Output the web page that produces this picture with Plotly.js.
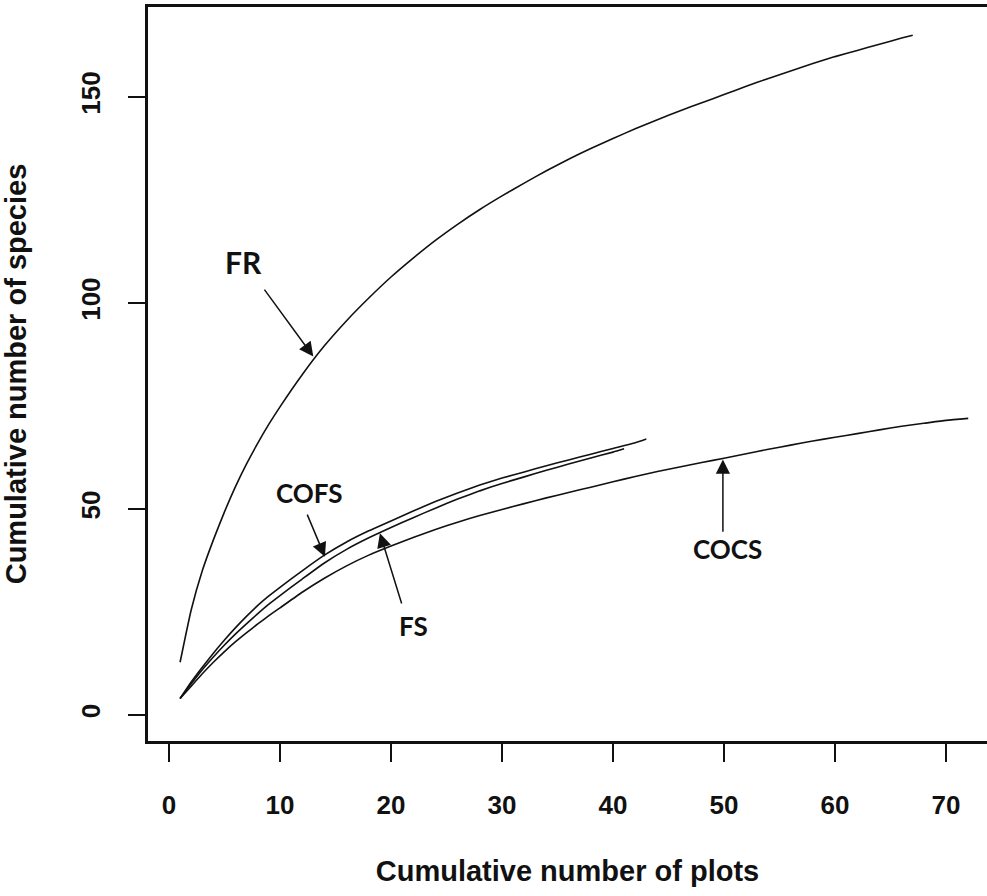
<!DOCTYPE html>
<html>
<head>
<meta charset="utf-8">
<script src="https://cdn.plot.ly/plotly-3.0.1.min.js"></script>
<style>html,body{margin:0;padding:0;background:#fff;}#chart{width:987px;height:896px;}</style>
</head>
<body>
<div id="chart"></div>
<script>
// ---- data ----
const frX = [1,2,3,4,5,6,7,8,9,10,12,14,16,18,20,22,24,26,28,30,32,34,36,38,40,42,44,46,48,50,52,54,56,58,60,62,64,66,67];
const frY = [12.8,25.5,35,42.5,49.3,55.5,61,66,70.6,74.8,82.6,89.6,95.7,101.2,106.3,110.9,115.2,119.1,122.7,126,129.1,132.1,134.9,137.5,139.9,142.3,144.5,146.6,148.6,150.6,152.6,154.5,156.3,158.1,159.8,161.3,162.8,164.3,165];

const cofsX = [1,2,3,4,5,6,7,8,9,10,12,14,16,18,20,22,24,26,28,30,32,34,36,38,40,42,43];
const cofsY = [4,8,11.6,15,18.2,21.2,24,26.6,28.9,31,35,38.8,42,44.7,47.1,49.5,51.8,53.9,55.8,57.5,59,60.5,61.9,63.3,64.7,66.1,67];

const fsX = [1,2,3,4,5,6,7,8,9,10,12,14,16,18,20,22,24,26,28,30,32,34,36,38,40,41];
const fsY = [4,7.6,11,14.1,17,19.7,22.2,24.6,26.9,29,33,36.9,40.2,43,45.5,47.9,50.2,52.4,54.4,56.2,57.8,59.4,60.9,62.4,63.8,64.6];

const cocsX = [1,2,3,4,5,6,7,8,9,10,12,14,16,18,20,22,24,26,28,30,32,34,36,38,40,42,44,46,48,50,52,54,56,58,60,62,64,66,68,70,72];
const cocsY = [4,7,10,12.8,15.4,17.8,20,22.1,24.1,26,29.8,33.2,36.2,38.8,41,43.1,45,46.8,48.4,49.9,51.3,52.7,54,55.3,56.6,57.9,59.1,60.2,61.3,62.3,63.4,64.5,65.5,66.5,67.4,68.3,69.2,70.1,70.8,71.5,72];

const xTicks = [0,10,20,30,40,50,60,70];
const yTicks = [0,50,100,150];
const xTitle = 'Cumulative number of plots';
const yTitle = 'Cumulative number of species';

const lineStyle = {color:'#111', width:1.6, shape:'spline', smoothing:0.5};
const traces = [
  {x:frX, y:frY, name:'FR', mode:'lines', line:lineStyle},
  {x:cofsX, y:cofsY, name:'COFS', mode:'lines', line:lineStyle},
  {x:fsX, y:fsY, name:'FS', mode:'lines', line:lineStyle},
  {x:cocsX, y:cocsY, name:'COCS', mode:'lines', line:lineStyle}
];

const labFont = {family:'Lato, "Open Sans", sans-serif', size:26, color:'#111', weight:700};
function label(text, x, y, size){
  return {text:'<b>'+text+'</b>', x:x, y:y, xref:'x', yref:'y', showarrow:false,
          font:Object.assign({}, labFont, size?{size:size}:{}), xanchor:'center', yanchor:'middle'};
}
function arrow(x0,y0,x1,y1){
  return {text:'', x:x1, y:y1, ax:x0, ay:y0, xref:'x', yref:'y', axref:'x', ayref:'y',
          showarrow:true, arrowhead:2, arrowsize:1.9, arrowwidth:1.5, arrowcolor:'#111'};
}

const tickFont = {family:'"Liberation Sans", Arial, sans-serif', size:26, color:'#111', weight:700};
const titleFont = {family:'"Liberation Sans", Arial, sans-serif', size:29, color:'#111', weight:700};

const layout = {
  width:987, height:896,
  margin:{l:148, r:0, t:7, b:155},
  paper_bgcolor:'#fff', plot_bgcolor:'#fff',
  showlegend:false,
  xaxis:{range:[-1.89,73.69], tickvals:xTicks, ticktext:xTicks.map(String), ticks:'outside', ticklen:18, tickwidth:1.5,
         tickcolor:'#111', showline:true, linewidth:3, linecolor:'#111', mirror:true, showgrid:false, zeroline:false,
         tickfont:tickFont, ticklabelstandoff:21,
         title:{text:xTitle, font:titleFont, standoff:42}},
  yaxis:{range:[-6.31,171.84], tickvals:yTicks, ticktext:yTicks.map(String), ticks:'outside', ticklen:17, tickwidth:1.5,
         tickcolor:'#111', showline:true, linewidth:3, linecolor:'#111', showgrid:false, zeroline:false,
         tickfont:tickFont, tickangle:-90, ticklabelstandoff:18,
         title:{text:yTitle, font:titleFont, standoff:42}},
  annotations:[
    label('FR', 6.67, 110, 30),
    arrow(8.5, 103.6, 13, 87),
    label('COFS', 12.7, 53.9),
    arrow(12.4, 49, 14.05, 38.4),
    label('FS', 22, 21.6),
    arrow(21, 26.7, 19, 44.1),
    label('COCS', 50.3, 40.3),
    arrow(49.9, 44.1, 49.9, 62)
  ]
};

Plotly.newPlot('chart', traces, layout, {displayModeBar:false, staticPlot:true});
</script>
</body>
</html>
